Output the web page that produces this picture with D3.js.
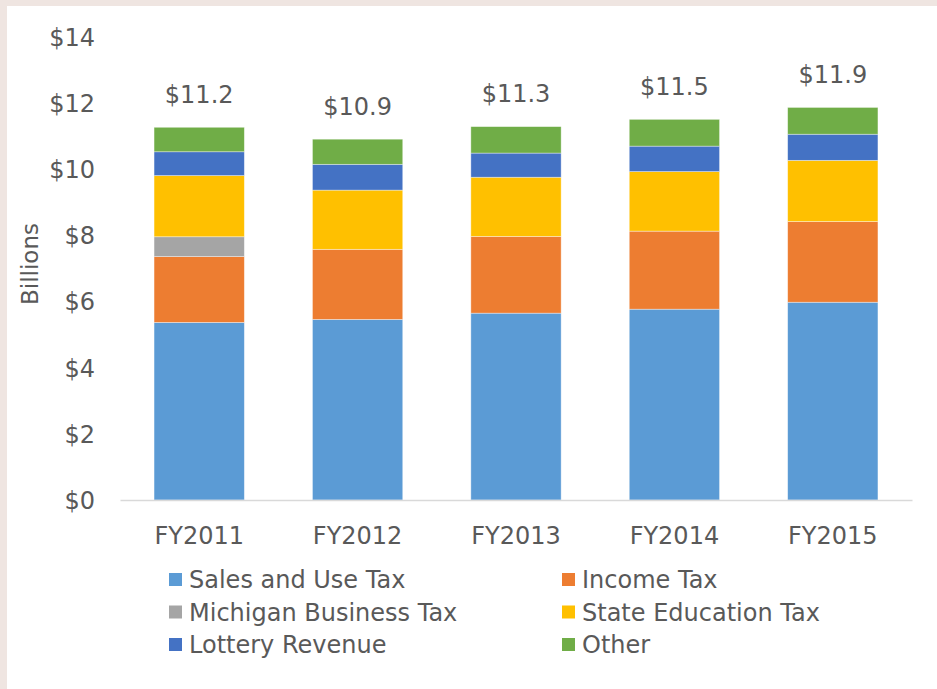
<!DOCTYPE html>
<html>
<head>
<meta charset="utf-8">
<script src="https://cdn.jsdelivr.net/npm/d3@7"></script>
<style>
  body { margin: 0; background: #efe5e1; }
  svg { display: block; }
  text { font-family: "DejaVu Sans", sans-serif; fill: #595959; }
</style>
</head>
<body>
<div id="chart"></div>
<script>
// data (billions of dollars)
var years = ["FY2011", "FY2012", "FY2013", "FY2014", "FY2015"];
var seriesNames = ["Sales and Use Tax", "Income Tax", "Michigan Business Tax",
  "State Education Tax", "Lottery Revenue", "Other"];
var salesUse = [5.37, 5.46, 5.65, 5.77, 5.98];
var incomeTax = [1.99, 2.12, 2.32, 2.36, 2.44];
var michiganBusiness = [0.60, 0, 0, 0, 0];
var stateEducation = [1.85, 1.79, 1.79, 1.80, 1.85];
var lottery = [0.72, 0.78, 0.73, 0.77, 0.79];
var other = [0.74, 0.76, 0.80, 0.81, 0.81];
var totals = [11.2, 10.9, 11.3, 11.5, 11.9];
var yTicks = [0, 2, 4, 6, 8, 10, 12, 14];

var colors = ["#5b9bd5", "#ed7d31", "#a5a5a5", "#ffc000", "#4472c4", "#70ad47"];

var svgWidth = 937;
var svgHeight = 689;

var svg = d3.select("#chart")
  .append("svg")
  .attr("width", svgWidth)
  .attr("height", svgHeight);

// white panel over the pink page
svg.append("rect")
  .attr("x", 7)
  .attr("y", 6)
  .attr("width", svgWidth - 7)
  .attr("height", svgHeight - 6)
  .attr("fill", "#ffffff");

var rows = years.map(function(yr, i) {
  return {
    year: yr,
    "Sales and Use Tax": salesUse[i],
    "Income Tax": incomeTax[i],
    "Michigan Business Tax": michiganBusiness[i],
    "State Education Tax": stateEducation[i],
    "Lottery Revenue": lottery[i],
    "Other": other[i],
    total: totals[i]
  };
});

var stacked = d3.stack().keys(seriesNames)(rows);

var xBand = d3.scaleBand()
  .domain(years)
  .range([120, 912])
  .paddingInner(0.43)
  .paddingOuter(0.215);

var yLinear = d3.scaleLinear()
  .domain([0, 14])
  .range([500, 37]);

var color = d3.scaleOrdinal().domain(seriesNames).range(colors);

// y axis (labels only)
var leftAxis = d3.axisLeft(yLinear)
  .tickValues(yTicks)
  .tickSize(0)
  .tickPadding(0)
  .tickFormat(function(d) { return "$" + d; });

var yAxis = svg.append("g")
  .attr("transform", "translate(95,0)")
  .call(leftAxis);
yAxis.select(".domain").remove();
yAxis.selectAll("text")
  .attr("font-size", 24)
  .attr("dy", "0.35em")
  .style("font-family", null)
  .attr("fill", "#595959");

// bars
var layers = svg.append("g")
  .selectAll("g")
  .data(stacked)
  .enter()
  .append("g")
  .attr("fill", d => color(d.key));

layers.selectAll("rect")
  .data(d => d)
  .enter()
  .append("rect")
  .attr("x", d => xBand(d.data.year))
  .attr("y", d => yLinear(d[1]))
  .attr("width", xBand.bandwidth())
  .attr("height", d => yLinear(d[0]) - yLinear(d[1]))
  .attr("stroke", "#ffffff")
  .attr("stroke-opacity", 0.5)
  .attr("stroke-width", 0.75);

// baseline
var bottomAxis = d3.axisBottom(xBand).tickSize(0).tickPadding(0);
var xAxis = svg.append("g")
  .attr("transform", "translate(0,500)")
  .call(bottomAxis);
xAxis.select(".domain")
  .attr("stroke", "#d9d9d9")
  .attr("stroke-width", 1.5);
xAxis.selectAll("text")
  .attr("y", 36)
  .attr("dy", "0.35em")
  .attr("font-size", 24)
  .style("font-family", null)
  .attr("fill", "#595959");

// totals above bars
var topOf = stacked[stacked.length - 1];
svg.append("g")
  .selectAll("text")
  .data(topOf)
  .enter()
  .append("text")
  .attr("x", d => xBand(d.data.year) + xBand.bandwidth() / 2)
  .attr("y", d => yLinear(d[1]) - 33)
  .attr("dy", "0.35em")
  .attr("text-anchor", "middle")
  .attr("font-size", 24)
  .text(d => "$" + d.data.total.toFixed(1));

// y title
svg.append("text")
  .attr("transform", "translate(30,264) rotate(-90)")
  .attr("text-anchor", "middle")
  .attr("dy", "0.35em")
  .attr("font-size", 23)
  .text("Billions");

// legend, two columns
var legend = svg.append("g")
  .selectAll("g")
  .data(seriesNames)
  .enter()
  .append("g")
  .attr("transform", function(d, i) {
    var col = i % 2;
    var row = Math.floor(i / 2);
    return "translate(" + (col === 0 ? 169 : 562) + "," + (580 + row * 32.5) + ")";
  });

legend.append("rect")
  .attr("x", 0)
  .attr("y", -7)
  .attr("width", 13)
  .attr("height", 13)
  .attr("fill", d => color(d));

legend.append("text")
  .attr("x", 20)
  .attr("y", 0)
  .attr("dy", "0.35em")
  .attr("font-size", 24)
  .text(d => d);
</script>
</body>
</html>
